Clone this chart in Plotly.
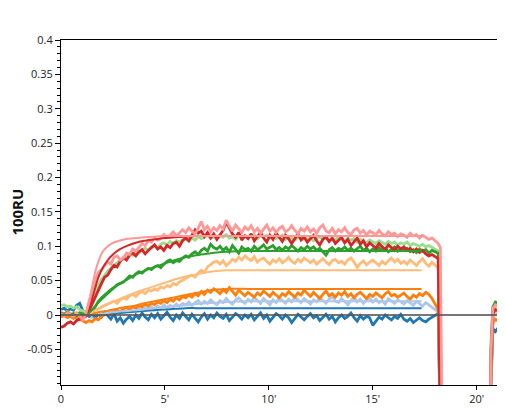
import numpy as np
import plotly.graph_objects as go

# sampling of the sensorgram: one reading every 0.15 min from 0 to 18.15 min,
# then a few points for the regeneration drop and the return at the end
t_main = np.round(np.arange(122) * 0.15, 2)
t_tail = [18.25, 18.35, 20.6, 20.68, 20.78, 20.9, 21.05, 21.2]

# responses in 0.001 x 100RU
pink = [2, -1, 3, 1, -2, 2, -1, -8, 2, 20,
        36, 52, 62, 66, 72, 77, 74, 84, 86, 80,
        83, 90, 88, 96, 93, 99, 104, 101, 108, 106,
        112, 109, 111, 117, 113, 116, 121, 115, 119, 124,
        120, 127, 122, 118, 126, 136, 124, 129, 121, 127,
        123, 130, 125, 138, 129, 122, 131, 126, 120, 128,
        124, 130, 121, 126, 119, 125, 131, 122, 127, 120,
        126, 129, 121, 124, 130, 123, 118, 126, 122, 128,
        121, 125, 119, 127, 131, 122, 120, 126, 118, 124,
        121, 127, 120, 117, 124, 126, 119, 123, 116, 122,
        120, 117, 123, 118, 115, 121, 117, 119, 114, 118,
        116, 113, 119, 115, 117, 112, 116, 113, 110, 112,
        108, 104,
        98, -200, -400, -60, 10, 15, 13, 16]

red = [-18, -16, -12, -10, -13, -8, -6, -4, -2, 6,
       16, 26, 38, 46, 55, 58, 66, 72, 70, 78,
       83, 80, 87, 90, 86, 92, 95, 89, 94, 98,
       102, 96, 99, 94, 101, 98, 104, 106, 100, 108,
       112, 108, 116, 124, 119, 122, 114, 120, 112, 118,
       110, 117, 123, 135, 126, 118, 113, 120, 109, 115,
       111, 118, 108, 114, 120, 112, 106, 116, 110, 119,
       113, 107, 116, 111, 104, 112, 118, 109, 113, 106,
       111, 116, 108, 102, 110, 114, 107, 112, 104, 109,
       113, 105, 110, 101, 107, 112, 103, 108, 99, 105,
       101, 97, 104, 99, 95, 102, 98, 94, 100, 96,
       99, 94, 97, 92, 96, 91, 94, 89, 86, 88,
       85, 82,
       -150, -400, -400, -80, 2, 8, 6, 10]

light_green = [14, 15, 12, 13, 10, 12, 8, 6, 4, 9,
               20, 32, 44, 52, 58, 64, 68, 73, 76, 79,
               81, 85, 89, 87, 92, 90, 95, 97, 94, 99,
               101, 98, 103, 105, 102, 107, 104, 108, 106, 109,
               110, 107, 112, 109, 114, 111, 113, 116, 112, 114,
               111, 115, 113, 117, 112, 114, 110, 115, 113, 116,
               112, 114, 117, 111, 115, 113, 116, 112, 114, 111,
               113, 116, 110, 114, 112, 109, 113, 111, 115, 110,
               112, 108, 111, 114, 110, 112, 107, 111, 109, 113,
               110, 107, 112, 109, 111, 106, 110, 108, 105, 109,
               107, 104, 108, 105, 103, 107, 104, 106, 102, 105,
               103, 106, 101, 104, 102, 100, 103, 99, 101, 98,
               96, 93,
               -150, -400, -400, -70, 8, 14, 11, 15]

green = [3, 1, 4, 0, 2, -1, 3, 1, 0, 3,
         6, 12, 20, 25, 29, 34, 37, 40, 44, 46,
         48, 52, 57, 55, 60, 63, 61, 65, 68, 66,
         70, 72, 69, 74, 78, 80, 76, 79, 78, 83,
         86, 84, 89, 92, 88, 94, 97, 93, 103, 98,
         96, 100, 94, 98, 92, 101, 96, 90, 99, 95,
         97, 93, 100, 95, 98, 102, 96, 99, 101, 95,
         98, 94, 99, 96, 101, 97, 93, 98, 95, 100,
         96, 99, 94, 97, 92, 87, 95, 98, 93, 97,
         95, 99, 94, 97, 93, 96, 100, 94, 97, 92,
         96, 93, 98, 94, 97, 92, 95, 99, 93, 96,
         94, 97, 92, 95, 91, 96, 93, 95, 90, 94,
         92, 90,
         -150, -400, -400, -50, 12, 19, 17, 21]

light_orange = [4, 2, 5, 3, 1, 4, 2, 0, 1, 3,
                4, 7, 9, 12, 14, 15, 18, 20, 17, 22,
                25, 23, 28, 30, 27, 32, 34, 31, 36, 35,
                38, 36, 41, 39, 43, 41, 46, 44, 48, 50,
                53, 56, 58, 55, 61, 65, 62, 70, 73, 77,
                78, 74, 79, 72, 76, 81, 78, 84, 80, 86,
                82, 79, 85, 77, 81, 83, 78, 74, 80, 77,
                82, 76, 79, 84, 78, 75, 81, 77, 83, 79,
                76, 80, 74, 78, 82, 77, 73, 79, 81, 76,
                78, 74, 80, 83, 77, 69, 75, 79, 73, 77,
                80, 76, 72, 78, 74, 79, 83, 77, 81, 75,
                78, 74, 80, 76, 72, 78, 82, 75, 71, 77,
                72, 68,
                -150, -400, -400, -90, 0, 6, 3, 7]

orange = [-3, -1, -4, -2, -5, -3, -6, -9, -11, -8,
          -10, -5, -7, -2, 0, 3, 1, 5, 7, 4,
          9, 11, 8, 12, 10, 14, 12, 16, 13, 17,
          15, 19, 17, 21, 18, 23, 20, 25, 22, 27,
          25, 29, 26, 31, 28, 34, 30, 36, 33, 38,
          35, 31, 37, 33, 40, 34, 29, 36, 32, 28,
          33, 30, 26, 32, 29, 35, 31, 27, 33, 29,
          25, 31, 28, 34, 30, 26, 32, 29, 36, 31,
          27, 33, 29, 24, 30, 35, 28, 31, 26, 32,
          29, 34, 27, 31, 25, 30, 33, 28, 24, 30,
          27, 32, 29, 25, 31, 34, 28, 30, 26, 29,
          32, 27, 23, 29, 26, 31, 28, 33, 30, 24,
          17, 8,
          -150, -400, -400, -100, -12, -6, -9, -4]

light_blue = [2, -1, 3, 0, -2, 1, -3, 0, 2, -2,
              -4, 1, 3, 0, 5, 2, 6, 3, 7, 4,
              8, 5, 9, 6, 4, 10, 7, 11, 8, 12,
              9, 13, 10, 15, 11, 14, 12, 16, 13, 17,
              15, 19, 14, 18, 21, 16, 20, 17, 22, 18,
              15, 21, 18, 24, 19, 16, 22, 25, 20, 17,
              23, 19, 26, 21, 17, 24, 20, 15, 22, 18,
              25, 21, 17, 23, 19, 26, 22, 18, 24, 20,
              16, 22, 19, 25, 21, 17, 23, 27, 20, 18,
              24, 20, 15, 21, 26, 19, 23, 17, 22, 25,
              19, 23, 18, 21, 16, 24, 20, 17, 22, 19,
              16, 21, 18, 14, 20, 17, 13, 18, 15, 11,
              8, 4,
              -150, -400, -400, -80, -4, 2, -1, 3]

blue = [8, 10, 6, 9, 7, 14, 17, 6, 2, -2,
        3, -4, 1, -3, 4, -1, -6, 2, -9, -4,
        -12, -6, -2, -8, 0, -5, 3, -3, -7, 1,
        -4, 2, -6, -1, 4, -3, -8, 0, -5, 3,
        -2, -7, 1, -4, -10, -3, 2, -6, 0, -4,
        3, -2, -5, 1, -8, -3, 2, -1, -6, 0,
        -4, 1, -7, -2, 3, -5, 0, -9, -3, 2,
        -1, -6, 0, -4, -11, -5, 1, -3, -7, -2,
        2, -4, -1, -8, -3, 1, -6, -2, -10, -4,
        0, -5, -2, 3, -4, -9, -1, -6, -2, -4,
        -15, -8, -3, -6, 0, -4, -7, -2, -5, 1,
        -6, -9, -5, -11, -7, -4, -8, -10, -6, -3,
        -1, 2,
        -150, -400, -400, -110, -20, -24, -18, -14]

# fitted curves (same units)
t_fit = [1.2, 1.35, 1.5, 1.65, 1.8, 2.0, 2.25, 2.5, 2.8, 3.2, 3.6, 4.0, 4.5,
         5.0, 5.5, 6.0, 6.5, 7.0, 7.5, 8.0, 9.0, 10.0, 12.0, 14.0, 17.35]
pink_fit = [0, 18, 42, 63, 78, 92, 100, 105, 108, 111, 112, 113, 114,
            115, 115, 115, 115, 115, 115, 115, 115, 115, 115, 115, 115]
red_fit = [0, 8, 24, 40, 55, 68, 80, 88, 95, 101, 105, 108, 110,
           112, 113, 114, 115, 115, 115, 115, 115, 115, 115, 115, 115]
green_fit = [0, 3, 8, 13, 18, 24, 31, 38, 45, 52, 59, 64, 70,
             75, 80, 84, 87, 89, 91, 92, 93, 93, 93, 93, 93]
light_orange_fit = [0, 2, 4, 7, 9, 12, 16, 19, 23, 28, 33, 37, 42,
                    47, 52, 56, 59, 62, 64, 65, 65, 65, 65, 65, 65]
orange_fit = [0, 1, 2, 3, 4, 5, 6, 8, 10, 12, 14, 17, 20,
              23, 26, 29, 32, 35, 37, 38, 38, 38, 38, 38, 38]
light_blue_fit = [0, 1, 1, 1, 2, 2, 3, 4, 5, 6, 7, 8, 10,
                  11, 13, 14, 16, 17, 18, 19, 20, 20, 20, 20, 20]
blue_fit = [0, 0, 1, 1, 1, 2, 2, 3, 3, 4, 5, 6, 7,
            8, 9, 10, 10, 10, 10, 10, 10, 10, 10, 10, 10]

x_ticks = [0, 5, 10, 15, 20]
x_ticktext = ['0', "5'", "10'", "15'", "20'"]
y_ticks = [-0.05, 0, 0.05, 0.1, 0.15, 0.2, 0.25, 0.3, 0.35, 0.4]
y_ticktext = ['-0.05', '0', '0.05', '0.1', '0.15', '0.2', '0.25', '0.3', '0.35', '0.4']

t_all = list(t_main) + t_tail

data_series = [
    (light_blue, '#aec7e8'),
    (blue, '#1f77b4'),
    (orange, '#ff7f0e'),
    (light_orange, '#ffbb78'),
    (light_green, '#98df8a'),
    (green, '#2ca02c'),
    (red, '#d62728'),
    (pink, '#ff9896'),
]
fit_series = [
    (blue_fit, '#1f77b4'),
    (light_blue_fit, '#aec7e8'),
    (orange_fit, '#ff7f0e'),
    (light_orange_fit, '#ffbb78'),
    (green_fit, '#2ca02c'),
    (red_fit, '#d62728'),
    (pink_fit, '#ff9896'),
]

fig = go.Figure()

for vals, color in data_series:
    fig.add_trace(go.Scatter(x=t_all, y=np.array(vals) / 1000, mode='lines',
                             line=dict(color=color, width=2.8),
                             showlegend=False, hoverinfo='skip'))

for vals, color in fit_series:
    fig.add_trace(go.Scatter(x=t_fit, y=np.array(vals) / 1000, mode='lines',
                             line=dict(color=color, width=2, shape='spline', smoothing=0.6),
                             showlegend=False, hoverinfo='skip'))

# baseline at zero, drawn over the curves
fig.add_shape(type='line', xref='paper', x0=0, x1=1, yref='y', y0=0, y1=0,
              line=dict(color='rgba(85,85,85,0.8)', width=2), layer='above')

fig.add_annotation(text='<b>100RU</b>', xref='paper', yref='paper',
                   x=-0.102, y=0.5, xanchor='center', yanchor='middle',
                   textangle=-90, showarrow=False,
                   font=dict(size=15, color='#111', family='Open Sans'))

# the page adds an 8px body margin, so the figure is 8px smaller
# and the margins are shifted to keep the plot box in place
fig.update_layout(
    width=497, height=407,
    margin=dict(l=53, r=4, t=32, b=30),
    plot_bgcolor='white', paper_bgcolor='white',
    font=dict(family='Open Sans', size=11, color='#222'),
    xaxis=dict(range=[0, 21.17], tickmode='array', tickvals=x_ticks, ticktext=x_ticktext,
               showline=True, mirror=True, linecolor='black', linewidth=1,
               ticks='outside', ticklen=4, tickcolor='black',
               showgrid=False, zeroline=False),
    yaxis=dict(range=[-0.1018, 0.4], tickmode='array', tickvals=y_ticks, ticktext=y_ticktext,
               showline=True, mirror=True, linecolor='black', linewidth=1,
               ticks='outside', ticklen=5, tickcolor='black',
               minor=dict(tick0=0, dtick=0.01, ticks='outside', ticklen=3, tickcolor='black'),
               showgrid=False, zeroline=False),
)

fig.write_html("out.html")
